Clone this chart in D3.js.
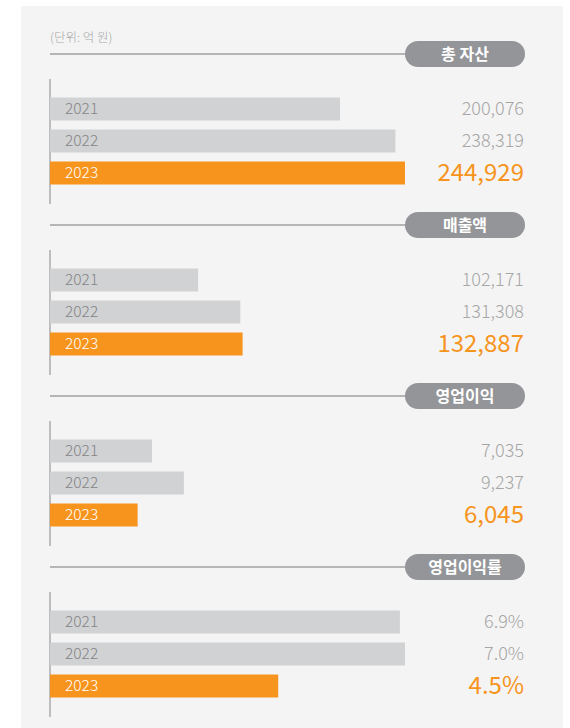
<!DOCTYPE html>
<html>
<head>
<meta charset="utf-8">
<script src="https://cdn.jsdelivr.net/npm/d3@7"></script>
<style>
  body { margin: 0; background: #fff; font-family: "Noto Sans CJK KR", "Noto Sans", sans-serif; }
</style>
</head>
<body>
<svg id="dessin" width="570" height="728"></svg>
<script>
// donnees
let annees = ["2021", "2022", "2023"];
let titres = ["총 자산", "매출액", "영업이익", "영업이익률"];
let valeurs = [
  [200076, 238319, 244929],
  [102171, 131308, 132887],
  [7035, 9237, 6045],
  [6.9, 7.0, 4.5]
];
let etiquettes = [
  ["200,076", "238,319", "244,929"],
  ["102,171", "131,308", "132,887"],
  ["7,035", "9,237", "6,045"],
  ["6.9%", "7.0%", "4.5%"]
];
// maximum de l'echelle par bloc (total et ventes partagent la meme)
let maxEchelle = [244929, 244929, 24493, 7.0];
let unite = "(단위: 억 원)";

const svg = d3.select("#dessin");

svg.append("rect")
  .attr("x", 21).attr("y", 6)
  .attr("width", 542).attr("height", 722)
  .style("fill", "#f4f4f4");

svg.append("text")
  .attr("x", 50).attr("y", 42)
  .text(unite)
  .style("font-size", "12.5px")
  .style("font-weight", 300)
  .style("fill", "#a7a7a7");

const yBloc = d3.scaleLinear().domain([0, 1]).range([54, 225]);
const yBarre = d3.scaleBand().domain(annees).range([43.5, 130.5]).paddingInner(9 / 32).paddingOuter(0);

const blocs = svg.selectAll(".bloc")
  .data(titres)
  .enter()
  .append("g")
  .attr("class", "bloc")
  .attr("transform", (d, i) => `translate(0,${yBloc(i)})`);

blocs.append("line")
  .attr("x1", 50).attr("x2", 410)
  .attr("y1", 0).attr("y2", 0)
  .style("stroke", "#a0a0a0")
  .style("stroke-width", 1.5);

blocs.append("rect")
  .attr("x", 405).attr("y", -13)
  .attr("width", 120).attr("height", 26)
  .attr("rx", 13)
  .style("fill", "#939598");

blocs.append("text")
  .attr("x", 465).attr("y", 0)
  .attr("dy", "0.35em")
  .attr("text-anchor", "middle")
  .text(d => d)
  .style("font-size", "16px")
  .style("font-weight", 700)
  .style("fill", "#fff");

blocs.append("line")
  .attr("x1", 50).attr("x2", 50)
  .attr("y1", 25).attr("y2", 150)
  .style("stroke", "#ababab")
  .style("stroke-width", 1.5);

blocs.each(function (titre, i) {
  const x = d3.scaleLinear().domain([0, maxEchelle[i]]).range([50, 405]);
  const lignes = annees.map((a, j) => ({ annee: a, v: valeurs[i][j], txt: etiquettes[i][j], der: j === annees.length - 1 }));

  const g = d3.select(this).selectAll(".ligne")
    .data(lignes)
    .enter()
    .append("g")
    .attr("class", "ligne")
    .attr("transform", d => `translate(0,${yBarre(d.annee)})`);

  g.append("rect")
    .attr("x", x(0))
    .attr("width", d => x(d.v) - x(0))
    .attr("height", yBarre.bandwidth())
    .style("fill", d => d.der ? "#f7941d" : "#d1d2d4");

  g.append("text")
    .attr("x", 65)
    .attr("y", yBarre.bandwidth() / 2)
    .attr("dy", "0.35em")
    .text(d => d.annee)
    .style("font-size", "15.5px")
    .style("font-weight", 300)
    .style("fill", d => d.der ? "#fff" : "#858585");

  g.append("text")
    .attr("x", 524)
    .attr("y", yBarre.bandwidth() / 2)
    .attr("dy", "0.35em")
    .attr("text-anchor", "end")
    .text(d => d.txt)
    .style("font-size", d => d.der ? "24px" : "18px")
    .style("font-weight", d => d.der ? 400 : 300)
    .style("fill", d => d.der ? "#f7941d" : "#a6a6a6");
});
</script>
</body>
</html>
